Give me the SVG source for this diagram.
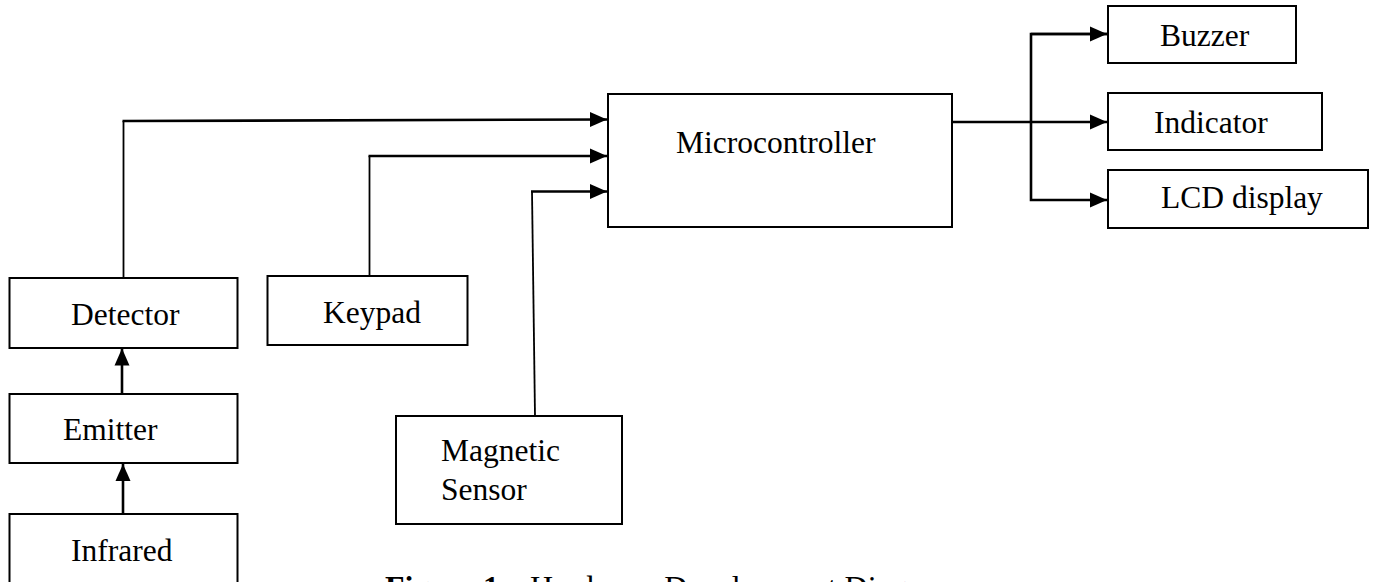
<svg xmlns="http://www.w3.org/2000/svg" width="1375" height="582" viewBox="0 0 1375 582">
  <style>
    .box { fill: #ffffff; stroke: #000000; stroke-width: 2; }
    .lbl { font-family: "Liberation Serif", "Times New Roman", serif; font-size: 31.5px; fill: #000000; }
    .wire { fill: none; stroke: #000000; stroke-width: 2.6; }
    .thin { fill: none; stroke: #000000; stroke-width: 1.8; }
    .cap { font-family: "Liberation Serif", "Times New Roman", serif; font-size: 32px; fill: #000000; }
  </style>
  <defs>
    <marker id="arrow" markerUnits="userSpaceOnUse" markerWidth="18" markerHeight="18" viewBox="0 0 18 18" refX="17" refY="9" orient="auto">
      <path d="M0,1.5 L17,9 L0,16.5 Z" fill="#000000"/>
    </marker>
  </defs>
  <rect width="1375" height="582" fill="#ffffff"/>

  <!-- connectors -->
  <g id="connectors">
    <!-- detector to microcontroller -->
    <polyline class="thin" points="123.5,277 123.5,121"/>
    <polyline class="wire" points="122.5,121 607,119.5" marker-end="url(#arrow)"/>
    <!-- keypad to microcontroller -->
    <polyline class="thin" points="369.5,276 369.5,156"/>
    <polyline class="wire" points="368.5,156 607,156" marker-end="url(#arrow)"/>
    <!-- magnetic sensor to microcontroller -->
    <polyline class="thin" points="535,416 532,191.5"/>
    <polyline class="wire" points="531,191.5 607,191.5" marker-end="url(#arrow)"/>
    <!-- infrared -> emitter -> detector -->
    <polyline class="wire" points="123,514 123,464" marker-end="url(#arrow)"/>
    <polyline class="wire" points="122,394 122,348.5" marker-end="url(#arrow)"/>
    <!-- microcontroller outputs -->
    <polyline class="wire" points="952,122 1107,122" marker-end="url(#arrow)"/>
    <polyline class="wire" points="1107,34 1031,34 1031,200 1107,200" marker-end="url(#arrow)"/>
    <polyline class="wire" points="1031,34 1107,34" marker-end="url(#arrow)"/>
  </g>

  <!-- blocks -->
  <g id="microcontroller">
    <rect class="box" x="608" y="94" width="344" height="133"/>
    <text class="lbl" x="676" y="153">Microcontroller</text>
  </g>
  <g id="detector">
    <rect class="box" x="9.5" y="278" width="228" height="70"/>
    <text class="lbl" x="71" y="325">Detector</text>
  </g>
  <g id="emitter">
    <rect class="box" x="9.5" y="394" width="228" height="69"/>
    <text class="lbl" x="63" y="440">Emitter</text>
  </g>
  <g id="infrared">
    <rect class="box" x="9.5" y="514" width="228" height="80"/>
    <text class="lbl" x="71" y="561">Infrared</text>
  </g>
  <g id="keypad">
    <rect class="box" x="267.5" y="276" width="200" height="69"/>
    <text class="lbl" x="323" y="323">Keypad</text>
  </g>
  <g id="magnetic-sensor">
    <rect class="box" x="396" y="416" width="226" height="108"/>
    <text class="lbl" x="441" y="461">Magnetic</text>
    <text class="lbl" x="441" y="500">Sensor</text>
  </g>
  <g id="buzzer">
    <rect class="box" x="1108" y="6" width="188" height="57"/>
    <text class="lbl" x="1160" y="46">Buzzer</text>
  </g>
  <g id="indicator">
    <rect class="box" x="1108" y="93" width="214" height="57"/>
    <text class="lbl" x="1154" y="133">Indicator</text>
  </g>
  <g id="lcd-display">
    <rect class="box" x="1108" y="170" width="260" height="58"/>
    <text class="lbl" x="1161" y="208">LCD display</text>
  </g>

  <!-- caption, running off the lower edge -->
  <text class="cap" x="385" y="598"><tspan font-weight="bold">Figure 1:</tspan><tspan x="530">Hardware Development Diagram</tspan></text>
</svg>
